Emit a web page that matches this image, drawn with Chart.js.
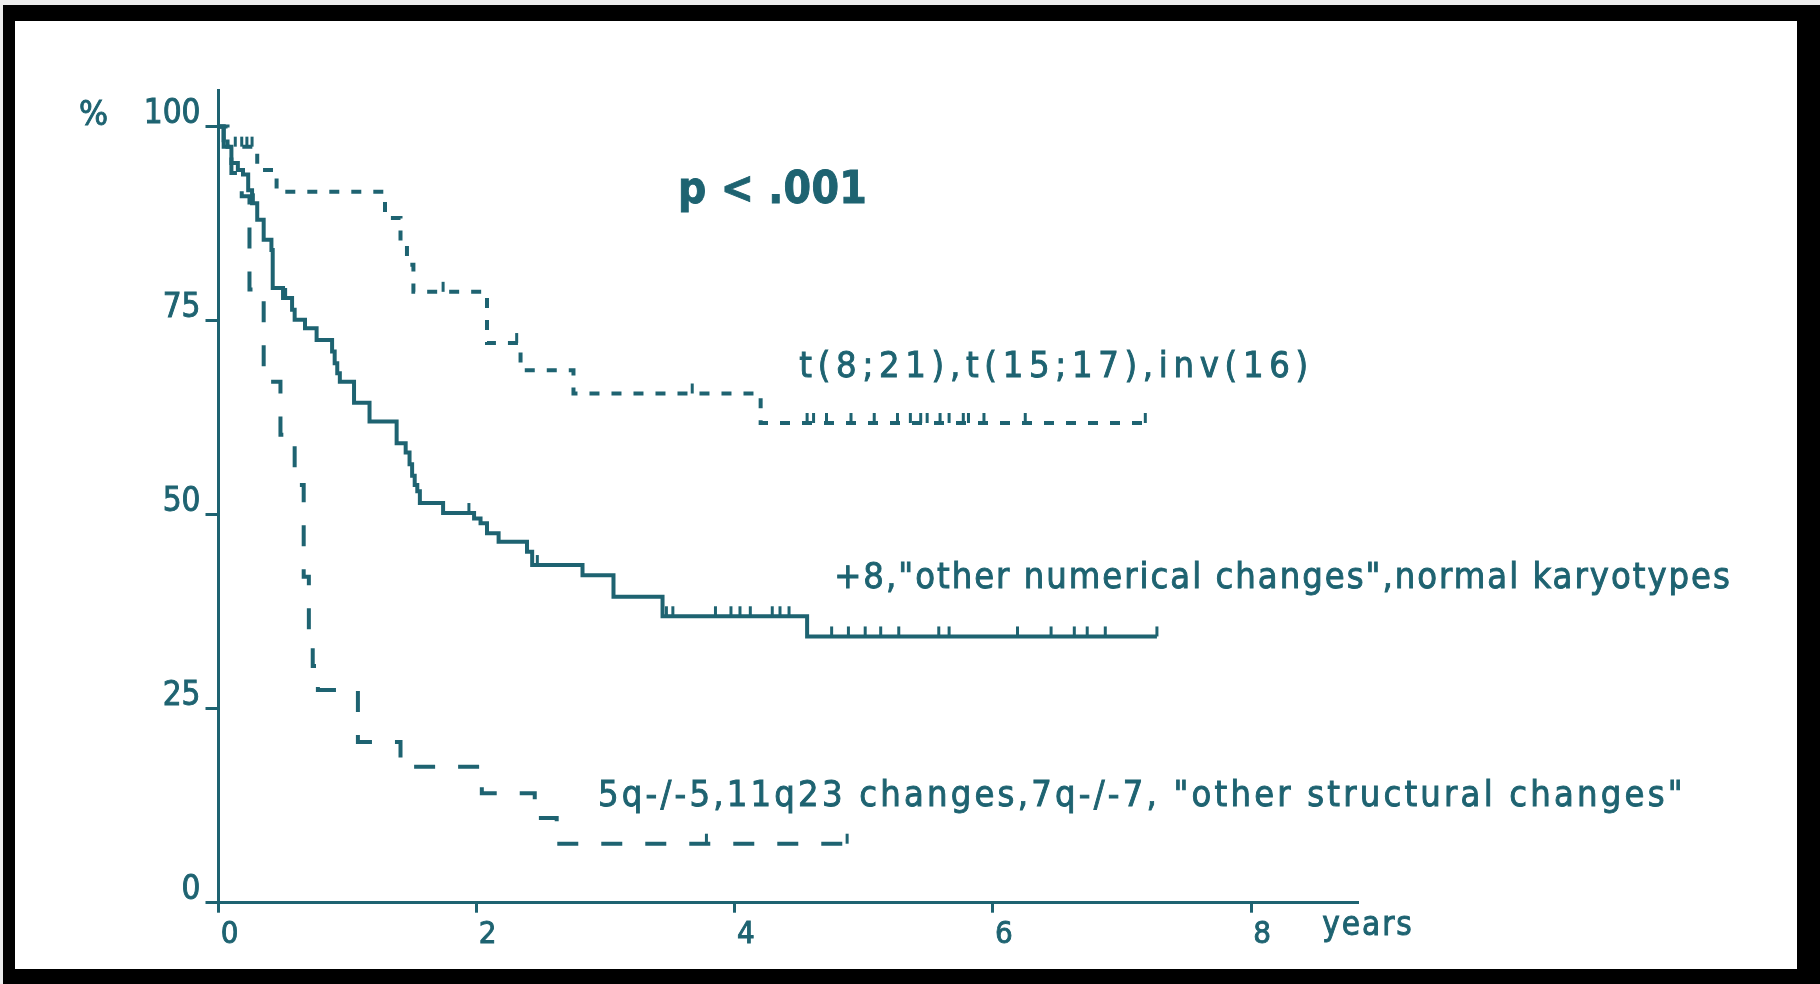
<!DOCTYPE html>
<html>
<head>
<meta charset="utf-8">
<script src="https://cdn.jsdelivr.net/npm/chart.js@4.4.1/dist/chart.umd.min.js"></script>
<style>
    html, body { margin: 0; padding: 0; background: #ececec; }
    #frame { position: absolute; left: 3px; top: 5px; width: 1817px; height: 979px; background: #000; }
    #paper { position: absolute; left: 15px; top: 21px; width: 1782px; height: 948px; background: #fff; }
    #myChart { position: absolute; left: 0; top: 0; }
</style>
</head>
<body>
<div id="frame"></div>
<div id="paper"></div>
<canvas id="myChart" width="1820" height="984"></canvas>
<script>
// Achsen
const yearTicks = [0, 2, 4, 6, 8];
const percentTicks = [0, 25, 50, 75, 100];

// günstige Gruppe: t(8;21), t(15;17), inv(16)  (Zeit in Jahren, Überleben in % nach dem Ereignis)
const favTime = [0, 0.07, 0.30, 0.45, 1.29, 1.41, 1.46, 1.51, 2.08, 2.34, 2.75, 4.20, 7.18];
const favSurv = [100, 97.4, 94.4, 91.6, 88.2, 85.0, 82.2, 78.7, 72.1, 68.6, 65.6, 61.8, 61.8];
const favCensor = [0.13, 0.18, 0.22, 0.26, 1.74, 2.31, 3.67, 4.56, 4.61, 4.71, 4.90, 5.08, 5.26, 5.36,
                   5.44, 5.49, 5.59, 5.66, 5.77, 5.81, 5.93, 6.25, 7.18];

// mittlere Gruppe: +8, andere numerische, normaler Karyotyp
const intTime = [0, 0.04, 0.10, 0.15, 0.19, 0.23, 0.26, 0.30, 0.35, 0.41, 0.42, 0.50, 0.57, 0.59, 0.67,
                 0.76, 0.88, 0.90, 0.92, 0.94, 1.05, 1.17, 1.38, 1.45, 1.48, 1.50, 1.52, 1.54, 1.56, 1.74,
                 1.98, 2.03, 2.08, 2.17, 2.39, 2.43, 2.82, 3.06, 3.44, 4.56, 7.27];
const intSurv = [100, 97.4, 95.3, 94.4, 93.8, 91.8, 90.1, 88.0, 85.4, 84.1, 79.2, 77.9, 76.4, 75.1, 74.0,
                 72.5, 71.0, 69.5, 68.2, 67.1, 64.4, 62.0, 59.2, 58.0, 56.5, 55.0, 53.8, 53.0, 51.5, 50.2,
                 49.5, 48.9, 47.6, 46.5, 45.2, 43.5, 42.2, 39.4, 36.9, 34.3, 34.3];
const intCensor = [0.04, 0.27, 0.52, 1.94, 2.47, 3.47, 3.52, 3.85, 3.97, 4.04, 4.12, 4.29, 4.35, 4.42,
                   4.75, 4.88, 5.01, 5.13, 5.27, 5.58, 5.66, 6.19, 6.45, 6.63, 6.73, 6.87, 7.27];

// ungünstige Gruppe: 5q-/-5, 11q23, 7q-/-7, andere strukturelle
const unfTime = [0, 0.04, 0.10, 0.18, 0.24, 0.35, 0.48, 0.59, 0.66, 0.70, 0.73, 0.77, 1.08, 1.41, 2.04,
                 2.45, 2.62, 4.87];
const unfSurv = [100, 97.0, 94.0, 91.0, 79.0, 67.1, 60.3, 53.8, 42.0, 35.0, 30.5, 27.4, 20.7, 17.5, 14.1,
                 10.9, 7.6, 7.6];
const unfCensor = [3.78, 4.87];

// Beschriftungen
const curveLabels = [
    'p < .001',
    't(8;21),t(15;17),inv(16)',
    '+8,"other numerical changes",normal karyotypes',
    '5q-/-5,11q23 changes,7q-/-7, "other structural changes"'
];
const axisUnits = ['%', 'years'];

const teal = '#1e6371';
const plotFont = "'DejaVu Sans Condensed', 'DejaVu Sans', sans-serif";

function toPoints(times, surv) {
    return times.map((t, i) => ({ x: t, y: surv[i] }));
}

// Überleben zum Zeitpunkt t aus der Treppenfunktion
function survivalAt(times, surv, t) {
    let s = surv[0];
    for (let i = 0; i < times.length; i++) {
        if (times[i] <= t) s = surv[i];
        else break;
    }
    return s;
}

// kleine senkrechte Striche für zensierte Patienten
const censorPlugin = {
    id: 'zensiert',
    afterDatasetsDraw(chart) {
        const { ctx, scales: { x, y } } = chart;
        ctx.save();
        ctx.strokeStyle = teal;
        ctx.lineWidth = 3;
        chart.data.datasets.forEach(ds => {
            (ds.censor || []).forEach(t => {
                const px = x.getPixelForValue(t);
                const py = y.getPixelForValue(survivalAt(ds.times, ds.surv, t));
                ctx.beginPath();
                ctx.moveTo(px, py);
                ctx.lineTo(px, py - 10);
                ctx.stroke();
            });
        });
        ctx.restore();
    }
};

const textPlugin = {
    id: 'kurvenText',
    afterDraw(chart, args, opts) {
        const { ctx, scales: { x, y } } = chart;
        ctx.save();
        ctx.fillStyle = teal;
        ctx.strokeStyle = teal;
        ctx.lineWidth = 0.9;
        ctx.textBaseline = 'alphabetic';
        ctx.textAlign = 'left';
        opts.items.forEach(item => {
            ctx.font = item.font;
            ctx.letterSpacing = item.spacing + 'px';
            const px = x.getPixelForValue(item.x);
            const py = y.getPixelForValue(item.y);
            ctx.fillText(item.text, px, py);
            ctx.strokeText(item.text, px, py);
        });
        ctx.restore();
    }
};

const lineStyle = {
    borderColor: teal,
    borderWidth: 4,
    pointRadius: 0,
    stepped: true,
    fill: false,
    borderCapStyle: 'butt'
};

const ctx = document.getElementById('myChart').getContext('2d');
const myChart = new Chart(ctx, {
    type: 'line',
    data: {
        datasets: [
            {
                ...lineStyle,
                label: curveLabels[1],
                data: toPoints(favTime, favSurv),
                times: favTime, surv: favSurv, censor: favCensor,
                borderDash: [10, 12]
            },
            {
                ...lineStyle,
                label: curveLabels[2],
                data: toPoints(intTime, intSurv),
                times: intTime, surv: intSurv, censor: intCensor
            },
            {
                ...lineStyle,
                label: curveLabels[3],
                data: toPoints(unfTime, unfSurv),
                times: unfTime, surv: unfSurv, censor: unfCensor,
                borderDash: [21, 23]
            }
        ]
    },
    options: {
        responsive: false,
        animation: false,
        layout: { padding: { left: 0, top: 90, right: 463, bottom: 0 } },
        plugins: {
            legend: { display: false },
            tooltip: { enabled: false },
            kurvenText: {
                items: [
                    { text: axisUnits[0], x: -1.08, y: 100.2, font: `34px ${plotFont}`, spacing: 0 },
                    { text: axisUnits[1], x: 8.55, y: -4.2, font: `33px ${plotFont}`, spacing: 2 },
                    { text: curveLabels[0], x: 3.56, y: 90.2, font: `bold 44px ${plotFont}`, spacing: 0.3 },
                    { text: curveLabels[1], x: 4.50, y: 67.7, font: `36px ${plotFont}`, spacing: 5.7 },
                    { text: curveLabels[2], x: 4.77, y: 40.5, font: `36px ${plotFont}`, spacing: 2 },
                    { text: curveLabels[3], x: 2.94, y: 12.5, font: `36px ${plotFont}`, spacing: 3.2 }
                ]
            }
        },
        scales: {
            x: {
                type: 'linear',
                min: 0,
                max: 8.82,
                afterBuildTicks: s => { s.ticks = yearTicks.map(v => ({ value: v })); },
                afterFit: s => { s.height = 81.3; },
                border: { display: true, color: teal, width: 3 },
                grid: { display: true, drawOnChartArea: false, drawTicks: true, tickLength: 10, color: teal, lineWidth: 3 },
                ticks: { color: teal, font: { family: plotFont, size: 31 }, padding: 4, labelOffset: 11, maxRotation: 0,
                         textStrokeColor: teal, textStrokeWidth: 0.9 }
            },
            y: {
                type: 'linear',
                min: 0,
                max: 104.7,
                afterBuildTicks: s => { s.ticks = percentTicks.map(v => ({ value: v })); },
                afterFit: s => { s.width = 218.5; },
                border: { display: true, color: teal, width: 3 },
                grid: { display: true, drawOnChartArea: false, drawTicks: true, tickLength: 13, color: teal, lineWidth: 3 },
                ticks: { color: teal, font: { family: plotFont, size: 33 }, padding: 5, labelOffset: -12,
                         textStrokeColor: teal, textStrokeWidth: 0.9 }
            }
        }
    },
    plugins: [censorPlugin, textPlugin]
});
</script>
</body>
</html>
